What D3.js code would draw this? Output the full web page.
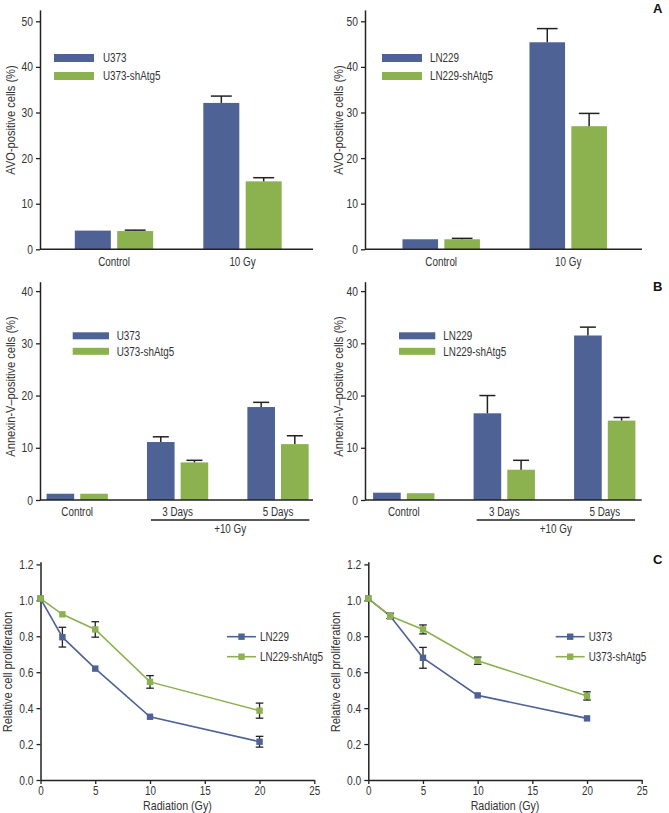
<!DOCTYPE html>
<html><head><meta charset="utf-8">
<script src="https://cdn.jsdelivr.net/npm/d3@7"></script>
<style>
body{margin:0;background:#fff}
svg text{font-family:"Liberation Sans",Arial,sans-serif;fill:#333}
</style></head><body>
<svg id="c" width="669" height="813"></svg>
<script>
// ---------- DATA ----------
const avoCategories = ["Control", "10 Gy"];
const avoU373 = [4.1, 32.1];
const avoU373Err = [0, 1.5];
const avoU373sh = [4.0, 14.9];
const avoU373shErr = [0.2, 0.8];
const avoLN229 = [2.2, 45.4];
const avoLN229Err = [0, 3.0];
const avoLN229sh = [2.2, 27.0];
const avoLN229shErr = [0.2, 2.8];
const avoTicks = [0, 10, 20, 30, 40, 50];

const annexCategories = ["Control", "3 Days", "5 Days"];
const annexU373 = [1.2, 11.1, 17.8];
const annexU373Err = [0, 1.0, 0.9];
const annexU373sh = [1.2, 7.2, 10.7];
const annexU373shErr = [0, 0.4, 1.6];
const annexLN229 = [1.4, 16.6, 31.5];
const annexLN229Err = [0, 3.4, 1.6];
const annexLN229sh = [1.3, 5.8, 15.2];
const annexLN229shErr = [0, 1.8, 0.6];
const annexTicks = [0, 10, 20, 30, 40];

const doses = [0, 2, 5, 10, 20];
const profLN229 = [1.01, 0.795, 0.62, 0.352, 0.213];
const profLN229Err = [0, 0.055, 0, 0, 0.03];
const profLN229sh = [1.01, 0.922, 0.838, 0.546, 0.386];
const profLN229shErr = [0, 0, 0.043, 0.035, 0.042];
const profU373 = [1.01, 0.913, 0.68, 0.471, 0.343];
const profU373Err = [0, 0, 0.058, 0, 0];
const profU373sh = [1.01, 0.913, 0.838, 0.664, 0.468];
const profU373shErr = [0, 0.015, 0.025, 0.02, 0.023];
const profYTicks = [0, 0.2, 0.4, 0.6, 0.8, 1.0, 1.2];
const profXTicks = [0, 5, 10, 15, 20, 25];

const BLUE = "#4e6295", GREEN = "#8cb14f", AX = "#222";
const svg = d3.select("#c");

function styleAxis(sel) {
  sel.selectAll("path.domain").attr("stroke", AX).attr("stroke-width", 1.5);
  sel.selectAll(".tick line").attr("stroke", AX).attr("stroke-width", 1.3);
  sel.selectAll(".tick text").style("font-size", "12.5px").attr("fill", "#333");
}

function yLabel(text, x, y) {
  svg.append("text").attr("transform", `translate(${x},${y}) rotate(-90)`)
    .attr("text-anchor", "middle").attr("dy", "0.35em").style("font-size", "13.5px").text(text);
}

function drawBarPanel(cfg, cats, series) {
  const y = d3.scaleLinear().domain([0, cfg.yMax]).range([cfg.yBottom, cfg.yTop]);
  const x = d3.scaleBand().domain(cats).range([cfg.bandStart, cfg.bandEnd]).paddingInner(0.39).paddingOuter(0.195);
  const xi = d3.scaleBand().domain(series.map(s => s.name)).range([0, x.bandwidth()]).paddingInner(cfg.innerPad);
  const g = svg.append("g");
  series.forEach(s => {
    const d = cats.map((c, i) => ({ c, v: s.values[i], e: s.errors[i] }));
    g.selectAll(null).data(d).join("rect")
      .attr("x", p => x(p.c) + xi(s.name)).attr("y", p => y(p.v))
      .attr("width", xi.bandwidth()).attr("height", p => y(0) - y(p.v)).attr("fill", s.color);
    const cw = xi.bandwidth() * 0.58;
    const eg = g.selectAll(null).data(d.filter(p => p.e > 0)).join("g")
      .attr("stroke", AX).attr("stroke-width", 1.5);
    eg.append("line").attr("x1", p => x(p.c) + xi(s.name) + xi.bandwidth() / 2)
      .attr("x2", p => x(p.c) + xi(s.name) + xi.bandwidth() / 2)
      .attr("y1", p => y(p.v)).attr("y2", p => y(p.v + p.e));
    eg.append("line").attr("x1", p => x(p.c) + xi(s.name) + xi.bandwidth() / 2 - cw / 2)
      .attr("x2", p => x(p.c) + xi(s.name) + xi.bandwidth() / 2 + cw / 2)
      .attr("y1", p => y(p.v + p.e)).attr("y2", p => y(p.v + p.e));
  });
  const ya = g.append("g").attr("transform", `translate(${cfg.axisX},0)`)
    .call(d3.axisLeft(y).tickValues(cfg.ticks).tickSize(4).tickSizeOuter(0).tickPadding(3));
  styleAxis(ya);
  g.append("line").attr("x1", cfg.axisX).attr("x2", cfg.axisRight)
    .attr("y1", y(0)).attr("y2", y(0)).attr("stroke", AX).attr("stroke-width", 1.5);
  g.selectAll(null).data(cats).join("text")
    .attr("x", c => x(c) + x.bandwidth() / 2).attr("y", cfg.catY)
    .attr("text-anchor", "middle").style("font-size", "12px").text(c => c);
  if (cfg.gy) {
    g.append("line").attr("x1", cfg.gy.x1).attr("x2", cfg.gy.x2).attr("y1", cfg.gy.y).attr("y2", cfg.gy.y)
      .attr("stroke", AX).attr("stroke-width", 1.3);
    g.append("text").attr("x", (cfg.gy.x1 + cfg.gy.x2) / 2).attr("y", cfg.gy.ty)
      .attr("text-anchor", "middle").style("font-size", "12px").text("+10 Gy");
  }
  series.forEach((s, i) => {
    const ly = cfg.legY + i * cfg.legStep;
    g.append("rect").attr("x", cfg.legX).attr("y", ly).attr("width", cfg.legW).attr("height", cfg.legH).attr("fill", s.color);
    g.append("text").attr("x", cfg.legTX).attr("y", ly + cfg.legH / 2).attr("dy", "0.35em")
      .style("font-size", "12px").text(s.name);
  });
  yLabel(cfg.label, cfg.labelX, cfg.labelY);
}

function drawLinePanel(cfg, series) {
  const y = d3.scaleLinear().domain([0, 1.215]).range([780, 561.7]);
  const x = d3.scaleLinear().domain([0, 25]).range([cfg.x0, cfg.x1]);
  const g = svg.append("g");
  const xa = g.append("g").attr("transform", `translate(0,${y(0)})`)
    .call(d3.axisBottom(x).tickValues(profXTicks).tickSize(4).tickSizeOuter(0).tickPadding(2));
  styleAxis(xa);
  xa.selectAll(".tick text").style("font-size", "12px");
  const ya = g.append("g").attr("transform", `translate(${cfg.x0},0)`)
    .call(d3.axisLeft(y).tickValues(profYTicks).tickFormat(d3.format(".1f")).tickSize(4).tickSizeOuter(0).tickPadding(3));
  styleAxis(ya);
  const line = d3.line().x((d, i) => x(doses[i])).y(d => y(d));
  series.forEach(s => {
    g.append("path").attr("d", line(s.values)).attr("fill", "none").attr("stroke", s.color).attr("stroke-width", 1.6);
  });
  series.forEach(s => {
    const d = doses.map((dd, i) => ({ x: dd, v: s.values[i], e: s.errors[i] })).filter(p => p.e > 0);
    const eg = g.selectAll(null).data(d).join("g").attr("stroke", AX).attr("stroke-width", 1.3);
    eg.append("line").attr("x1", p => x(p.x)).attr("x2", p => x(p.x)).attr("y1", p => y(p.v - p.e)).attr("y2", p => y(p.v + p.e));
    [-1, 1].forEach(k => eg.append("line").attr("x1", p => x(p.x) - 3.8).attr("x2", p => x(p.x) + 3.8)
      .attr("y1", p => y(p.v + k * p.e)).attr("y2", p => y(p.v + k * p.e)));
  });
  series.forEach(s => {
    g.selectAll(null).data(s.values).join("rect")
      .attr("x", (d, i) => x(doses[i]) - 3.2).attr("y", d => y(d) - 3.2)
      .attr("width", 6.4).attr("height", 6.4).attr("fill", s.color);
  });
  g.append("text").attr("x", (cfg.x0 + cfg.x1) / 2).attr("y", 810).attr("text-anchor", "middle")
    .style("font-size", "13px").text("Radiation (Gy)");
  series.forEach((s, i) => {
    const ly = 636.7 + i * 20;
    g.append("line").attr("x1", cfg.legX).attr("x2", cfg.legX + 29).attr("y1", ly).attr("y2", ly)
      .attr("stroke", s.color).attr("stroke-width", 1.6);
    g.append("rect").attr("x", cfg.legX + 14.5 - 3.2).attr("y", ly - 3.2).attr("width", 6.4).attr("height", 6.4).attr("fill", s.color);
    g.append("text").attr("x", cfg.legX + 33).attr("y", ly).attr("dy", "0.35em").style("font-size", "12px").text(s.name);
  });
  yLabel("Relative cell proliferation", cfg.labelX, 672);
}

// Panel A
const aBase = { yMax: 52.5, yBottom: 249.3, yTop: 9.9, ticks: avoTicks, innerPad: 0.15, catY: 266,
  legY: 54, legStep: 18, legW: 40, legH: 8, label: "AVO-positive cells (%)", labelY: 120 };
drawBarPanel(Object.assign({}, aBase, { axisX: 40, axisRight: 313, bandStart: 49.75, bandEnd: 306.75,
  legX: 54, legTX: 103, labelX: 10 }), avoCategories, [
  { name: "U373", values: avoU373, errors: avoU373Err, color: BLUE },
  { name: "U373-shAtg5", values: avoU373sh, errors: avoU373shErr, color: GREEN }]);
drawBarPanel(Object.assign({}, aBase, { axisX: 365, axisRight: 642, bandStart: 377.7, bandEnd: 631.7,
  legX: 382, legTX: 430, labelX: 338 }), avoCategories, [
  { name: "LN229", values: avoLN229, errors: avoLN229Err, color: BLUE },
  { name: "LN229-shAtg5", values: avoLN229sh, errors: avoLN229shErr, color: GREEN }]);

// Panel B
const bBase = { yMax: 41.8, yBottom: 500, yTop: 281.7, ticks: annexTicks, innerPad: 0.18, catY: 516,
  legY: 332.3, legStep: 15.5, legW: 36.3, legH: 7, label: "Annexin-V\u2013positive cells (%)", labelY: 386.5 };
drawBarPanel(Object.assign({}, bBase, { axisX: 40, axisRight: 313, bandStart: 27, bandEnd: 328.2,
  legX: 72.7, legTX: 116.7, labelX: 10, gy: { x1: 151, x2: 309.3, y: 520, ty: 533 } }), annexCategories, [
  { name: "U373", values: annexU373, errors: annexU373Err, color: BLUE },
  { name: "U373-shAtg5", values: annexU373sh, errors: annexU373shErr, color: GREEN }]);
drawBarPanel(Object.assign({}, bBase, { axisX: 365, axisRight: 641.7, bandStart: 353.5, bandEnd: 655,
  legX: 399, legTX: 443.3, labelX: 338, gy: { x1: 476.7, x2: 635, y: 520, ty: 533 } }), annexCategories, [
  { name: "LN229", values: annexLN229, errors: annexLN229Err, color: BLUE },
  { name: "LN229-shAtg5", values: annexLN229sh, errors: annexLN229shErr, color: GREEN }]);

// Panel C
drawLinePanel({ x0: 40.5, x1: 314.3, legX: 227, labelX: 7 }, [
  { name: "LN229", values: profLN229, errors: profLN229Err, color: BLUE },
  { name: "LN229-shAtg5", values: profLN229sh, errors: profLN229shErr, color: GREEN }]);
drawLinePanel({ x0: 368.3, x1: 641.7, legX: 555.7, labelX: 335 }, [
  { name: "U373", values: profU373, errors: profU373Err, color: BLUE },
  { name: "U373-shAtg5", values: profU373sh, errors: profU373shErr, color: GREEN }]);

// condense all body text horizontally (narrow face look)
svg.selectAll("text").each(function () {
  const l = this.getComputedTextLength();
  if (l > 0) { this.setAttribute("textLength", (l * 0.82).toFixed(2)); this.setAttribute("lengthAdjust", "spacingAndGlyphs"); }
});

// Panel letters
[["A", 13.3], ["B", 290.7], ["C", 564]].forEach(([t, yy]) => {
  svg.append("text").attr("x", 653).attr("y", yy)
    .style("font-weight", "bold").style("font-size", "13px").style("fill", "#111").text(t);
});
</script>
</body></html>
